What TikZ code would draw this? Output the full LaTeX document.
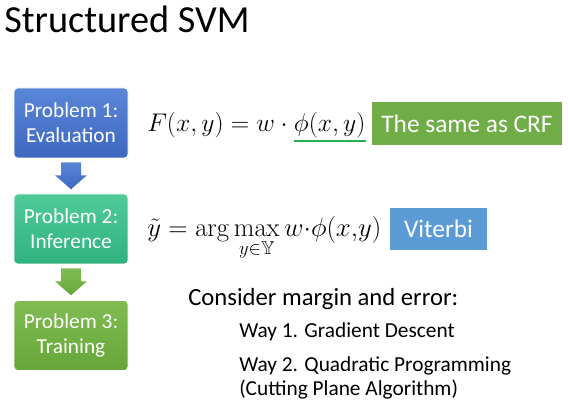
\documentclass[tikz,border=0pt]{standalone}
\usepackage{amssymb}
\usepackage[no-math]{fontspec}
\setmainfont{Carlito}
\usetikzlibrary{positioning, calc}

\definecolor{evalblue}{HTML}{3F67C0}
\definecolor{evalbluetop}{HTML}{5A86D8}
\definecolor{infteal}{HTML}{2FB27E}
\definecolor{inftealtop}{HTML}{4FCB99}
\definecolor{traingreen}{HTML}{66A638}
\definecolor{traingreentop}{HTML}{80BC52}
\definecolor{crfgreen}{HTML}{70AD47}
\definecolor{vitblue}{HTML}{5B9BD5}
\definecolor{ulgreen}{HTML}{22B14C}

\tikzset{
  problem/.style={rounded corners=3pt, minimum width=85.5pt, minimum height=52.5pt,
    text=white, align=center, font=\fontsize{16}{19}\selectfont, draw=white, line width=0.4pt},
  tag/.style={text=white, font=\fontsize{19}{22}\selectfont, inner sep=0pt},
  plain/.style={anchor=base west, inner sep=0pt},
  formula/.style={plain, font=\fontsize{17.28}{20}\selectfont, scale=1.11},
}

% block arrow hanging below a node: #1 = node, #2 = shading colours
\newcommand{\blockarrow}[2]{%
  \shade[#2] ($(#1.south)+(-10,4)$) -- ($(#1.south)+(10,4)$) -- ($(#1.south)+(10,17)$)
    -- ($(#1.south)+(16,17)$) -- ($(#1.south)+(0,31)$) -- ($(#1.south)+(-16,17)$)
    -- ($(#1.south)+(-10,17)$) -- cycle;}

\begin{document}
\begin{tikzpicture}[x=0.75pt,y=-0.75pt]
    % Canvas of the slide
    \useasboundingbox (0,0) rectangle (568,413);

    % Title
    \node[anchor=west, inner sep=0pt, font=\fontsize{28.7}{31}\selectfont] (title) at (4,19) {Structured SVM};

    % The three problems
    \node[problem, top color=evalbluetop, bottom color=evalblue] (p1) at (71,123) {Problem 1:\\Evaluation};
    \node[problem, top color=inftealtop, bottom color=infteal] (p2) at (71,229) {Problem 2:\\Inference};
    \node[problem, top color=traingreentop, bottom color=traingreen] (p3) at (71,335.5) {Problem 3:\\Training};

    % Block arrows between them
    \blockarrow{p1}{top color=evalbluetop, bottom color=evalblue}
    \blockarrow{p2}{top color=traingreentop, bottom color=traingreen}

    % Evaluation
    \node[formula] (feval) at (147,132) {$F(x,y)=w\cdot{}$};
    \node[formula, right=0pt of feval.base east, anchor=base west] (phi) {$\phi(x,y)$};
    \draw[ulgreen, line width=1.3pt] ([yshift=-1.5pt]phi.south west) -- ([yshift=-1.5pt]phi.south east);
    \node[tag, fill=crfgreen, minimum width=142.5pt, minimum height=32pt] (crf) at (467,123.5) {The same as CRF};

    % Inference
    \node[formula, scale=1.045] (finf) at (147,237)
      {$\tilde{y}=\arg\max\limits_{y\in\mathbb{Y}} w{\cdot}\phi(x{,}y)$};
    \node[tag, fill=vitblue, minimum width=72.75pt, minimum height=31.5pt] (vit) at (438.5,229) {Viterbi};

    % Training
    \node[plain, font=\fontsize{18.5}{22}\selectfont] (margin) at (188,306) {Consider margin and error:};
    \node[plain, font=\fontsize{16}{19}\selectfont] (way1) at (239,338) {Way 1. Gradient Descent};
    \node[plain, font=\fontsize{16}{19}\selectfont] (way2) at (239,372) {Way 2. Quadratic Programming};
    \node[plain, font=\fontsize{16}{19}\selectfont] (way2b) at (239,396) {(Cutting Plane Algorithm)};
\end{tikzpicture}
\end{document}
